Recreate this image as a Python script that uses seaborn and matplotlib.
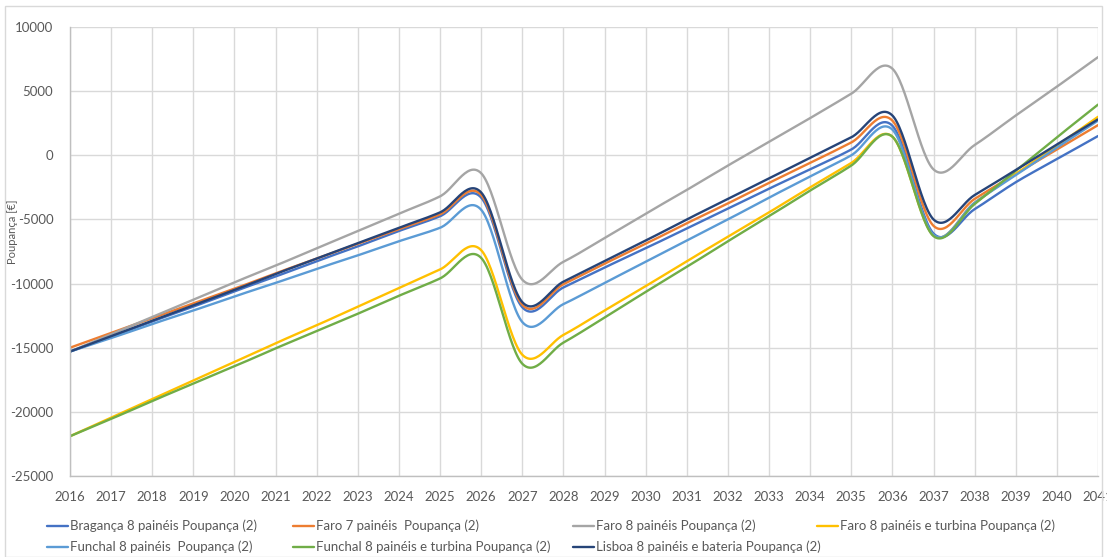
import matplotlib
matplotlib.use("Agg")
import matplotlib.pyplot as plt
from matplotlib.lines import Line2D
from matplotlib.patches import Rectangle
import numpy as np
import pandas as pd
import seaborn as sns

years = list(range(2016, 2042))

series_names = [
    "Bragança 8 painéis Poupança (2)",
    "Faro 7 painéis  Poupança (2)",
    "Faro 8 painéis Poupança (2)",
    "Faro 8 painéis e turbina Poupança (2)",
    "Funchal 8 painéis  Poupança (2)",
    "Funchal 8 painéis e turbina Poupança (2)",
    "Lisboa 8 painéis e bateria Poupança (2)",
]
series_colors = ["#4472C4", "#ED7D31", "#A5A5A5", "#FFC000", "#5B9BD5", "#70AD47", "#264478"]

braganca_8 = [-15300, -14150, -12950, -11800, -10600, -9450, -8250, -7100, -5900, -4750,
              -3300, -11850, -10300, -8750, -7250, -5700, -4150, -2600, -1100, 450,
              2300, -6100, -4200, -2100, -300, 1500]
faro_7 = [-15000, -13850, -12700, -11550, -10400, -9200, -8050, -6900, -5750, -4600,
          -3100, -11650, -10050, -8450, -6900, -5300, -3750, -2150, -600, 1000,
          2700, -5500, -3400, -1450, 450, 2350]
faro_8 = [-15300, -13950, -12600, -11250, -9900, -8600, -7250, -5900, -4550, -3200,
          -1400, -9700, -8300, -6450, -4550, -2700, -800, 1050, 2900, 4800,
          6750, -1100, 800, 3100, 5350, 7650]
faro_8_turbina = [-21900, -20450, -19000, -17550, -16100, -14650, -13250, -11800, -10350, -8900,
                  -7400, -15550, -14000, -12100, -10200, -8250, -6350, -4450, -2500, -600,
                  1450, -6250, -3700, -1450, 750, 3000]
funchal_8 = [-15300, -14250, -13150, -12100, -11000, -9950, -8850, -7800, -6700, -5650,
             -4250, -13000, -11600, -9950, -8300, -6650, -5000, -3300, -1650, 0,
             2000, -6200, -3700, -1550, 600, 2700]
funchal_8_turbina = [-21900, -20550, -19150, -17800, -16450, -15050, -13700, -12350, -10950, -9600,
                     -8000, -16250, -14600, -12650, -10650, -8700, -6700, -4750, -2750, -800,
                     1450, -6300, -3800, -1200, 1400, 3950]
lisboa_8_bateria = [-15300, -14100, -12900, -11700, -10500, -9250, -8050, -6850, -5650, -4450,
                    -2900, -11450, -9850, -8250, -6650, -5000, -3400, -1800, -200, 1400,
                    3100, -5000, -3100, -1150, 850, 2800]

all_values = [braganca_8, faro_7, faro_8, faro_8_turbina, funchal_8, funchal_8_turbina, lisboa_8_bateria]


def smooth_line(xs, ys, steps=30):
    # Excel-style smoothed line (Catmull-Rom through the points)
    xs = np.asarray(xs, dtype=float)
    ys = np.asarray(ys, dtype=float)
    n = len(ys)
    m = np.empty(n)
    m[1:-1] = (ys[2:] - ys[:-2]) / 2
    m[0] = ys[1] - ys[0]
    m[-1] = ys[-1] - ys[-2]
    out_x, out_y = [], []
    t = np.linspace(0, 1, steps, endpoint=False)
    for i in range(n - 1):
        h00 = 2 * t**3 - 3 * t**2 + 1
        h10 = t**3 - 2 * t**2 + t
        h01 = -2 * t**3 + 3 * t**2
        h11 = t**3 - t**2
        out_y.append(h00 * ys[i] + h10 * m[i] + h01 * ys[i + 1] + h11 * m[i + 1])
        out_x.append(xs[i] + t * (xs[i + 1] - xs[i]))
    out_x.append([xs[-1]])
    out_y.append([ys[-1]])
    return np.concatenate(out_x), np.concatenate(out_y)


frames = []
for name, vals in zip(series_names, all_values):
    sx, sy = smooth_line(years, vals)
    frames.append(pd.DataFrame({"ano": sx, "poupanca": sy, "serie": name}))
df = pd.concat(frames, ignore_index=True)

sns.set_theme(style="white")
plt.rcParams["font.family"] = ["Lato", "DejaVu Sans"]
plt.rcParams["axes.unicode_minus"] = False
text_color = "#595959"
grid_color = "#D9D9D9"

W, H = 1107, 557
fig = plt.figure(figsize=(W / 100, H / 100), dpi=100)
ax = fig.add_axes([70 / W, 1 - 476 / H, (1098 - 70) / W, (476 - 27) / H])

sns.lineplot(data=df, x="ano", y="poupanca", hue="serie", hue_order=series_names,
             palette=series_colors, linewidth=1.7, estimator=None, sort=False,
             legend=False, ax=ax)

ax.set_xlim(2016, 2041)
ax.set_ylim(-25000, 10000)
ax.set_xticks(years)
ax.set_xticklabels([str(y) for y in years])
ax.set_yticks(np.arange(-25000, 10001, 5000))
ax.grid(True, color=grid_color, linewidth=1.0)
ax.set_axisbelow(True)
for side in ["top", "right"]:
    ax.spines[side].set_visible(False)
for side in ["left", "bottom"]:
    ax.spines[side].set_color("#BFBFBF")
    ax.spines[side].set_linewidth(1.0)
ax.tick_params(axis="both", length=0, labelsize=9.5, colors=text_color)
ax.tick_params(axis="x", pad=11)
ax.tick_params(axis="y", pad=12)
ax.set_xlabel("")
ax.set_ylabel("")
fig.text(13 / W, 1 - 232 / H, "Poupança [€]", rotation=90, ha="center", va="center",
         fontsize=8, color=text_color)

# legend laid out like Excel: 4 columns, filled row by row
col_x = [47, 293, 573, 817]
row_y = [526, 547]
for i, (name, color) in enumerate(zip(series_names, series_colors)):
    cx = col_x[i % 4]
    cy = row_y[i // 4]
    fig.add_artist(Line2D([cx / W, (cx + 21) / W], [1 - cy / H, 1 - cy / H],
                          color=color, linewidth=1.7, transform=fig.transFigure))
    fig.text((cx + 23) / W, 1 - cy / H, name, ha="left", va="center",
             fontsize=9.5, color=text_color)

fig.patches.append(Rectangle((5 / W, 0), 1 - 10 / W, 1 - 6 / H, transform=fig.transFigure,
                             fill=False, edgecolor="#D9D9D9", linewidth=1.0))

fig.savefig("out.png", dpi=100)
